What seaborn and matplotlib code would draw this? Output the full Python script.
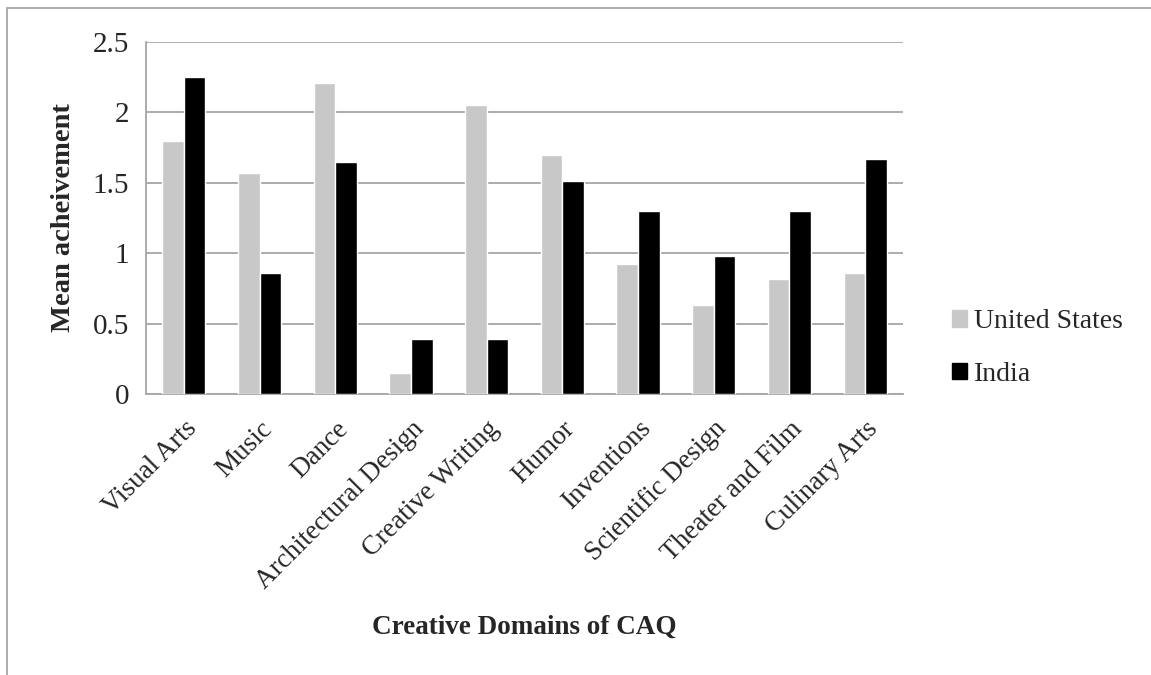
import pandas as pd
import numpy as np
import matplotlib
matplotlib.use("Agg")
import matplotlib.pyplot as plt
import seaborn as sns
from matplotlib.ticker import FixedLocator, MultipleLocator, FuncFormatter
from matplotlib.lines import Line2D

domains = ["Visual Arts", "Music", "Dance", "Architectural Design", "Creative Writing",
           "Humor", "Inventions", "Scientific Design", "Theater and Film", "Culinary Arts"]
us_vals    = [1.80, 1.57, 2.21, 0.15, 2.05, 1.70, 0.92, 0.63, 0.82, 0.86]
india_vals = [2.25, 0.86, 1.65, 0.39, 0.39, 1.51, 1.30, 0.98, 1.30, 1.67]
countries  = ["United States", "India"]
colors     = ["#C8C8C8", "#000000"]

df = pd.DataFrame({
    "domain":  domains * 2,
    "country": [countries[0]] * len(domains) + [countries[1]] * len(domains),
    "value":   us_vals + india_vals,
})

sns.set_style("white")
plt.rcParams['font.family'] = ['Liberation Serif', 'DejaVu Serif']

fig = plt.figure(figsize=(11.51, 6.75), dpi=100)
ax = fig.add_axes([146/1151, 1 - 394/675, (903 - 146)/1151, (394 - 42)/675])

sns.barplot(data=df, x="domain", y="value", hue="country", order=domains,
            hue_order=countries, palette=colors, width=0.57, gap=0,
            saturation=1, ax=ax, legend=False, zorder=3)

ax.set_xlim(-0.5, len(domains) - 0.5)
ax.set_ylim(0, 2.5)
ax.yaxis.set_major_locator(MultipleLocator(0.5))
ax.yaxis.set_major_formatter(FuncFormatter(lambda v, p: f"{v:g}"))
ax.grid(axis="y", color="#A6A6A6", linewidth=1.3, zorder=0)
ax.set_axisbelow(True)

for s in ["top", "right"]:
    ax.spines[s].set_visible(False)
for s in ["left", "bottom"]:
    ax.spines[s].set_color("#A6A6A6")
    ax.spines[s].set_linewidth(1.3)

# ticks at category boundaries like Excel
ax.xaxis.set_minor_locator(FixedLocator(np.arange(-0.5, len(domains), 1.0)))
ax.tick_params(axis="x", which="major", length=0, pad=16, labelsize=19.5)
ax.tick_params(axis="x", which="minor", length=8, width=1.3, color="#A6A6A6", direction="out")
ax.tick_params(axis="y", length=8, width=1.3, color="#A6A6A6", labelsize=21, pad=4)
plt.setp(ax.get_xticklabels(), rotation=45, ha="right", rotation_mode="anchor")

ax.set_xlabel("")
ax.set_ylabel("")
fig.text(63/1151, 1 - 218/675, "Mean acheivement", rotation=90, ha="center", va="center",
         fontsize=20.5, fontweight="bold")
fig.text(524/1151, 1 - 627/675, "Creative Domains of CAQ", ha="center", va="center",
         fontsize=19.5, fontweight="bold")

handles = [plt.Rectangle((0, 0), 1, 1, color=c) for c in colors]
fig.legend(handles, countries, loc="center left", bbox_to_anchor=(938/1151, 1 - 348/675),
           frameon=False, fontsize=20, handlelength=0.55, handleheight=0.55,
           handletextpad=0.25, labelspacing=1.0, borderpad=0)

# outer chart frame
fig.add_artist(Line2D([7/1151, 1], [1 - 8/675, 1 - 8/675], color="#A6A6A6", lw=1.3))
fig.add_artist(Line2D([7/1151, 7/1151], [0, 1 - 8/675], color="#A6A6A6", lw=1.3))

fig.savefig("out.png", dpi=100)
